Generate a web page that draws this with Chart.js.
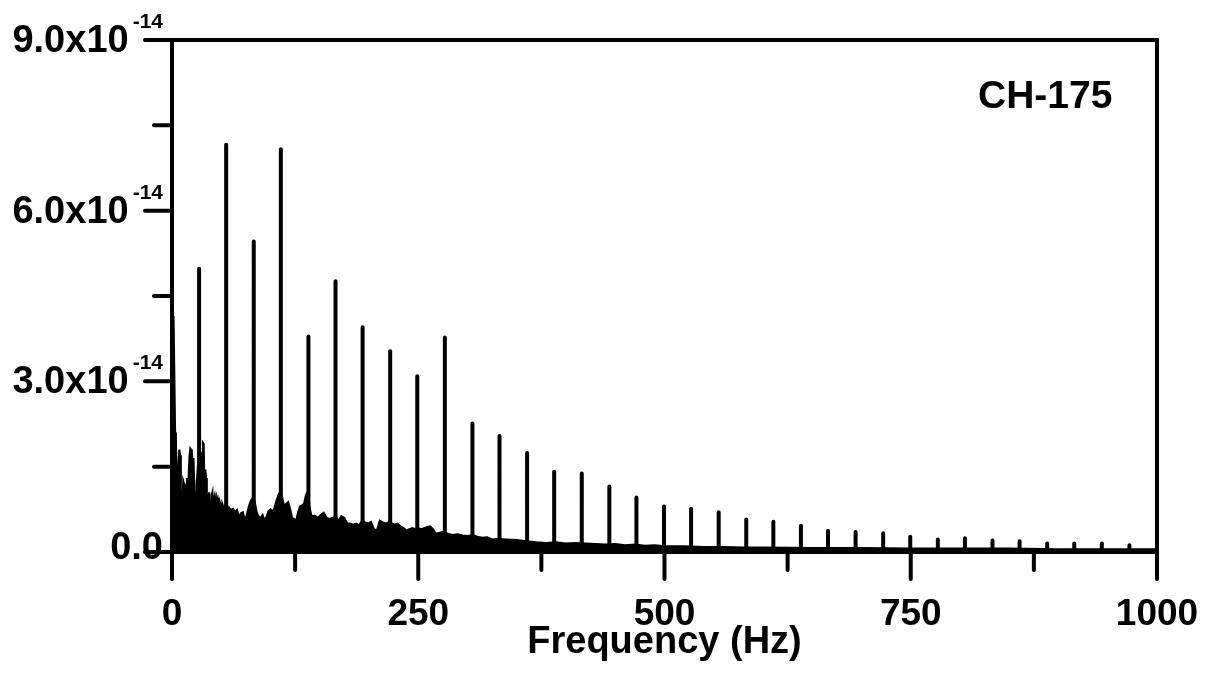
<!DOCTYPE html>
<html>
<head>
<meta charset="utf-8">
<script src="https://cdn.jsdelivr.net/npm/chart.js@4.4.1/dist/chart.umd.min.js"></script>
<style>
  html, body { margin: 0; padding: 0; background: #fff; }
  #chart { display: block; }
</style>
</head>
<body>
<canvas id="chart" width="1208" height="675"></canvas>
<script>
// amplitudes are in units of 1e-14
const peakFreq = [27.5, 55, 83, 110.5, 138.5, 166, 193.5, 221.5, 249, 277, 305, 332.5, 360.5, 388, 416,
  444, 471.5, 499.5, 527, 555, 583, 610.5, 638.5, 666, 694, 722, 749.5, 777.5, 805, 833, 860.5, 888.5,
  916, 944, 972];
const peakAmp = [4.98, 7.16, 5.46, 7.08, 3.79, 4.76, 3.95, 3.53, 3.09, 3.77, 2.26, 2.04, 1.74, 1.41, 1.38,
  1.15, 0.96, 0.80, 0.76, 0.70, 0.57, 0.53, 0.46, 0.37, 0.35, 0.33, 0.27, 0.22, 0.24, 0.20, 0.19, 0.15,
  0.15, 0.15, 0.12];

// broadband noise floor (hand read, low end is very jagged)
const noiseFreq = [0, 0.8, 1.6, 2.4, 3.2, 4, 5, 5.8, 6.6, 7.4, 8.2, 9, 9.8, 10.6, 11.4, 12.2, 13, 13.8,
  14.6, 15.4, 16.2, 17, 17.8, 18.6, 19.4, 20.2, 21, 21.8, 22.6, 23.4, 24.2, 25, 25.8, 26.6, 27.4, 28.2,
  29, 29.8, 30.6, 31.4, 32.2, 33, 33.8, 34.6, 35.4, 36.2, 37, 37.8, 38.6, 39.4, 40.2, 41, 41.8, 42.6,
  43.4, 44.2, 45, 45.8, 46.6, 47.4, 48.2, 49, 50, 51, 52, 53, 54, 55, 56, 57, 58, 60, 62, 64, 66, 68,
  70, 72, 74, 76, 78, 80, 82, 84, 86, 88, 90, 92, 94, 96, 98, 100, 102, 104, 106, 108, 110, 112, 114,
  116, 118, 120, 122, 124, 126, 128, 130, 132, 134, 136, 138, 140, 142, 145, 148, 151, 154, 157, 160,
  163, 166, 169, 172, 175, 178, 181, 184, 187, 190, 193, 196, 199, 202, 205, 208, 211, 214, 217, 220,
  223, 226, 229, 232, 235, 238, 241, 244, 247, 250, 253, 256, 259, 262, 265, 268, 272, 276, 280, 285,
  290, 295, 300, 305, 310, 315, 320, 325, 330, 340, 350, 360, 370, 380, 390, 400, 410, 420, 430, 440,
  450, 460, 470, 480, 490, 500, 520, 540, 560, 580, 600, 650, 700, 750, 800, 850, 900, 950, 1000];
const noiseAmp = [0.6, 2.2, 4.15, 3.1, 2.1, 1.95, 1.1, 0.3, 1.55, 1.8, 1.7, 0.9, 0.1, 0.8, 1.25, 1.2,
  0.5, 0.15, 1.0, 1.3, 0.7, 1.4, 1.7, 1.82, 1.8, 1.75, 1.55, 1.65, 1.2, 0.6, 0.3, 1.2, 1.4, 1.3, 1.0,
  0.4, 1.3, 1.6, 1.75, 1.92, 1.9, 1.1, 1.45, 1.3, 0.5, 0.2, 0.95, 1.05, 0.6, 0.1, 1.0, 1.05, 0.3, 0.95,
  1.0, 0.9, 0.15, 0.95, 0.9, 0.6, 0.9, 0.85, 0.5, 0.85, 0.8, 0.75, 0.8, 0.9, 0.75, 0.55, 0.78, 0.74,
  0.76, 0.7, 0.74, 0.62, 0.68, 0.7, 0.55, 0.66, 0.8, 0.9, 0.95, 0.88, 0.7, 0.62, 0.6, 0.65, 0.55, 0.62,
  0.72, 0.75, 0.7, 0.78, 0.9, 1.0, 1.07, 0.95, 0.8, 0.85, 0.88, 0.75, 0.6, 0.58, 0.55, 0.7, 0.8, 0.82,
  0.85, 1.0, 1.07, 0.75, 0.62, 0.64, 0.6, 0.65, 0.69, 0.6, 0.58, 0.6, 0.62, 0.55, 0.63, 0.6, 0.5, 0.5,
  0.48, 0.5, 0.47, 0.55, 0.52, 0.5, 0.53, 0.4, 0.38, 0.55, 0.52, 0.5, 0.52, 0.5, 0.48, 0.5, 0.45, 0.42,
  0.38, 0.4, 0.42, 0.4, 0.42, 0.4, 0.42, 0.44, 0.45, 0.4, 0.32, 0.34, 0.36, 0.32, 0.3, 0.31, 0.29, 0.28,
  0.3, 0.27, 0.25, 0.26, 0.22, 0.23, 0.22, 0.21, 0.19, 0.17, 0.16, 0.17, 0.15, 0.16, 0.15, 0.14, 0.13,
  0.14, 0.12, 0.13, 0.11, 0.12, 0.1, 0.1, 0.09, 0.09, 0.08, 0.08, 0.07, 0.07, 0.06, 0.06, 0.06, 0.05,
  0.05, 0.05];

const xMajorTicks = [0, 250, 500, 750, 1000];
const xMinorTicks = [125, 375, 625, 875];
const yMajorTicks = [0, 3, 6, 9];
const yMinorTicks = [1.5, 4.5, 7.5];
const yTickLabels = ['0.0', '3.0x10', '6.0x10', '9.0x10'];
const yTickExp = ['', '-14', '-14', '-14'];
const channelLabel = 'CH-175';
const xTitle = 'Frequency (Hz)';

const FONT = "'Liberation Sans', Arial, Helvetica, sans-serif";

// each peak is a vertical stroke 0 -> amp, separated by a gap
const peakPoints = [];
peakFreq.forEach((f, i) => {
  peakPoints.push({ x: f, y: 0 }, { x: f, y: peakAmp[i] }, { x: f, y: null });
});
const noisePoints = noiseFreq.map((f, i) => ({ x: f, y: noiseAmp[i] }));

const frameAndTicks = {
  id: 'frameAndTicks',
  afterDatasetsDraw(chart) {
    const { ctx, chartArea: a, scales: { x, y } } = chart;
    ctx.save();
    ctx.strokeStyle = '#000';
    ctx.fillStyle = '#000';
    ctx.lineWidth = 4;
    ctx.lineJoin = 'miter';
    ctx.strokeRect(a.left, a.top, a.right - a.left, a.bottom - a.top);

    ctx.lineCap = 'round';
    const tick = (x1, y1, x2, y2) => {
      ctx.beginPath();
      ctx.moveTo(x1, y1);
      ctx.lineTo(x2, y2);
      ctx.stroke();
    };
    yMajorTicks.forEach(v => { const p = y.getPixelForValue(v); tick(a.left, p, a.left - 27, p); });
    yMinorTicks.forEach(v => { const p = y.getPixelForValue(v); tick(a.left, p, a.left - 18, p); });
    xMajorTicks.forEach(v => { const p = x.getPixelForValue(v); tick(p, a.bottom, p, a.bottom + 27); });
    xMinorTicks.forEach(v => { const p = x.getPixelForValue(v); tick(p, a.bottom, p, a.bottom + 18); });

    // x tick labels
    ctx.font = `bold 37px ${FONT}`;
    ctx.textAlign = 'center';
    ctx.textBaseline = 'alphabetic';
    xMajorTicks.forEach(v => ctx.fillText(String(v), x.getPixelForValue(v), a.bottom + 73));

    // y tick labels with superscript exponent
    yMajorTicks.forEach((v, i) => {
      const p = y.getPixelForValue(v);
      const right = a.left - 9;
      ctx.textAlign = 'right';
      if (yTickExp[i]) {
        ctx.font = `bold 21px ${FONT}`;
        const w = ctx.measureText(yTickExp[i]).width;
        ctx.fillText(yTickExp[i], right, p - 12);
        ctx.font = `bold 38px ${FONT}`;
        ctx.fillText(yTickLabels[i], right - w - 4, p + 12);
      } else {
        ctx.font = `bold 38px ${FONT}`;
        ctx.fillText(yTickLabels[i], right, p + 7);
      }
    });

    // axis title
    ctx.font = `bold 38px ${FONT}`;
    ctx.textAlign = 'center';
    ctx.fillText(xTitle, (a.left + a.right) / 2, a.bottom + 101);

    // channel name
    ctx.font = `bold 39px ${FONT}`;
    ctx.textAlign = 'left';
    ctx.fillText(channelLabel, a.right - 179, a.top + 68);
    ctx.restore();
  }
};

new Chart(document.getElementById('chart'), {
  type: 'line',
  data: {
    datasets: [
      {
        label: 'noise',
        data: noisePoints,
        borderColor: '#000',
        backgroundColor: '#000',
        borderWidth: 2,
        fill: 'origin',
        tension: 0,
        pointRadius: 0
      },
      {
        label: 'harmonics',
        data: peakPoints,
        borderColor: '#000',
        borderWidth: 4,
        borderCapStyle: 'round',
        spanGaps: false,
        fill: false,
        tension: 0,
        pointRadius: 0
      }
    ]
  },
  options: {
    responsive: false,
    animation: false,
    devicePixelRatio: 1,
    layout: { padding: { left: 172, right: 51, top: 40, bottom: 123 } },
    scales: {
      x: { type: 'linear', min: 0, max: 1000, display: false },
      y: { type: 'linear', min: 0, max: 9, display: false }
    },
    plugins: {
      legend: { display: false },
      tooltip: { enabled: false }
    }
  },
  plugins: [frameAndTicks]
});
</script>
</body>
</html>
